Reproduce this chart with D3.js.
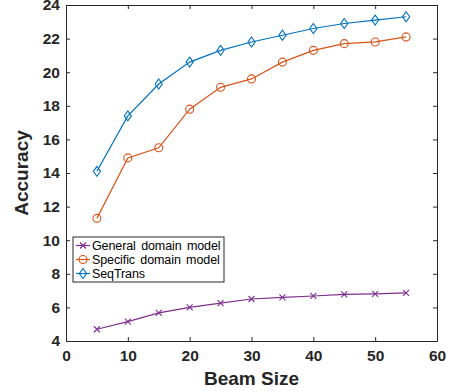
<!DOCTYPE html>
<html>
<head>
<meta charset="utf-8">
<script src="https://cdn.jsdelivr.net/npm/d3@7"></script>
<style>
  body { margin: 0; background: #fff; }
  svg { display: block; }
</style>
</head>
<body>
<svg id="chart" width="451" height="392"></svg>
<script>
var beamSizes = [5, 10, 15, 20, 25, 30, 35, 40, 45, 50, 55];
var generalModel = [4.7, 5.15, 5.67, 6.0, 6.25, 6.5, 6.6, 6.68, 6.77, 6.8, 6.86];
var specificModel = [11.3, 14.9, 15.5, 17.8, 19.1, 19.6, 20.6, 21.3, 21.7, 21.8, 22.1];
var seqTrans = [14.1, 17.4, 19.3, 20.6, 21.3, 21.8, 22.2, 22.6, 22.9, 23.1, 23.3];
var seriesNames = ['General domain model', 'Specific domain model', 'SeqTrans'];
var xTicks = [0, 10, 20, 30, 40, 50, 60];
var yTicks = [4, 6, 8, 10, 12, 14, 16, 18, 20, 22, 24];

var svg = d3.select('#chart'),
  plotLeft = 66, plotRight = 437, plotTop = 5, plotBottom = 341;

var x = d3.scaleLinear().domain([0, 60]).range([plotLeft, plotRight]),
  y = d3.scaleLinear().domain([4, 24]).range([plotBottom, plotTop]);

var font = '"Liberation Sans", Helvetica, Arial, sans-serif';

// axes with inward ticks, box on all sides
svg.append('g')
  .attr('transform', 'translate(0,' + plotBottom + ')')
  .call(d3.axisBottom(x).tickValues(xTicks).tickSizeInner(-4).tickSizeOuter(0).tickPadding(9));
svg.append('g')
  .attr('transform', 'translate(' + plotLeft + ',0)')
  .call(d3.axisLeft(y).tickValues(yTicks).tickSizeInner(-4).tickSizeOuter(0).tickPadding(6));
svg.append('g')
  .attr('transform', 'translate(0,' + plotTop + ')')
  .call(d3.axisTop(x).tickValues(xTicks).tickSizeInner(-4).tickSizeOuter(0).tickFormat(''));
svg.append('g')
  .attr('transform', 'translate(' + plotRight + ',0)')
  .call(d3.axisRight(y).tickValues(yTicks).tickSizeInner(-4).tickSizeOuter(0).tickFormat(''));

svg.selectAll('.domain').attr('stroke', '#262626');
svg.selectAll('.tick line').attr('stroke', '#262626');
svg.selectAll('.tick text')
  .style('font-family', font)
  .style('font-weight', 'bold')
  .style('font-size', '15.5px')
  .attr('fill', '#262626');

// axis labels
svg.append('text')
  .attr('x', (plotLeft + plotRight) / 2)
  .attr('y', 385)
  .attr('text-anchor', 'middle')
  .style('font-family', font)
  .style('font-weight', 'bold')
  .style('font-size', '19px')
  .attr('fill', '#262626')
  .text('Beam Size');

svg.append('text')
  .attr('text-anchor', 'middle')
  .attr('transform', 'translate(28,' + (plotTop + plotBottom) / 2 + ')rotate(-90)')
  .style('font-family', font)
  .style('font-weight', 'bold')
  .style('font-size', '19px')
  .attr('fill', '#262626')
  .text('Accuracy');

var series = [
  { name: seriesNames[0], values: generalModel, color: '#7E2F8E', marker: 'x' },
  { name: seriesNames[1], values: specificModel, color: '#D95319', marker: 'o' },
  { name: seriesNames[2], values: seqTrans, color: '#0072BD', marker: 'd' }
];

function drawMarker(g, type, color) {
  if (type === 'x') {
    g.append('path').attr('d', 'M-3,-3L3,3M-3,3L3,-3')
      .attr('stroke', color).attr('stroke-width', 1.1).attr('fill', 'none');
  } else if (type === 'o') {
    g.append('circle').attr('r', 4)
      .attr('stroke', color).attr('stroke-width', 1.1).attr('fill', 'none');
  } else {
    g.append('path').attr('d', 'M0,-5L3.6,0L0,5L-3.6,0Z')
      .attr('stroke', color).attr('stroke-width', 1.1).attr('fill', 'none');
  }
}

var line = d3.line()
  .x(function (d, i) { return x(beamSizes[i]); })
  .y(function (d) { return y(d); });

series.forEach(function (s) {
  svg.append('path')
    .datum(s.values)
    .attr('d', line)
    .attr('fill', 'none')
    .attr('stroke', s.color)
    .attr('stroke-width', 1.2);
  s.values.forEach(function (v, i) {
    var g = svg.append('g').attr('transform', 'translate(' + x(beamSizes[i]) + ',' + y(v) + ')');
    drawMarker(g, s.marker, s.color);
  });
});

// legend
var legend = svg.append('g').attr('transform', 'translate(73,237)');
legend.append('rect')
  .attr('width', 151).attr('height', 45)
  .attr('fill', '#fff').attr('stroke', '#262626').attr('stroke-width', 1);

series.forEach(function (s, i) {
  var ly = 8.5 + i * 14;
  legend.append('line')
    .attr('x1', 3).attr('x2', 17).attr('y1', ly).attr('y2', ly)
    .attr('stroke', s.color).attr('stroke-width', 1.2);
  drawMarker(legend.append('g').attr('transform', 'translate(10,' + ly + ')'), s.marker, s.color);
  legend.append('text')
    .attr('x', 19).attr('y', ly + 4.5)
    .style('font-family', font)
    .style('font-size', '12.5px')
    .style('word-spacing', '2px')
    .style('letter-spacing', '-0.1px')
    .attr('fill', '#000')
    .text(s.name);
});
</script>
</body>
</html>
